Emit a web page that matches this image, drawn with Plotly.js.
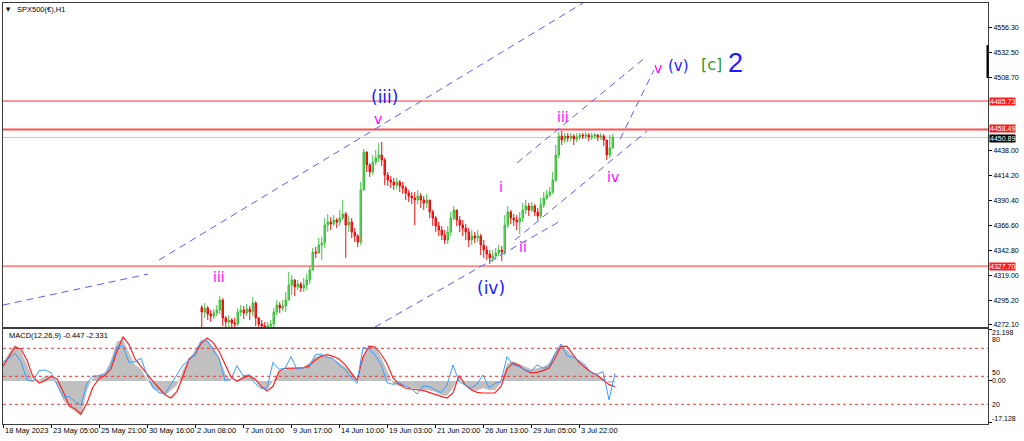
<!DOCTYPE html>
<html>
<head>
<meta charset="utf-8">
<script src="https://cdn.plot.ly/plotly-3.0.1.min.js"></script>
<style>
html,body{margin:0;padding:0;background:#ffffff;}
#chart{width:1024px;height:441px;}
</style>
</head>
<body>
<div id="chart"></div>
<script>
// ---------------- DATA ----------------
// H1 candles of SPX500, one candle per 4 hourly bars (bar index = hours shown)
const firstOpen = 4288.0;
const closes = [
 4283.7,4287.5,4281.8,4279.9,4282.8,4285.6,4295.2,4278.0,4274.2,4276.1,
 4273.2,4272.2,4283.7,4285.6,4282.8,4286.6,4283.7,4292.3,4278.0,4272.2,
 4270.3,4269.4,4270.3,4272.2,4283.7,4290.4,4287.5,4289.5,4295.2,4309.6,
 4314.4,4307.7,4310.5,4306.7,4309.6,4314.4,4323.9,4341.2,4340.2,4347.9,
 4349.8,4367.0,4369.9,4368.0,4371.8,4369.9,4373.7,4377.6,4367.0,4369.9,
 4360.3,4356.5,4350.7,4400.5,4436.9,4424.5,4417.8,4427.3,4431.2,4434.0,
 4429.3,4414.9,4410.1,4408.2,4405.3,4408.2,4404.4,4402.4,4397.7,4394.8,
 4392.9,4391.0,4394.8,4391.0,4388.1,4391.0,4379.5,4373.7,4366.1,4362.2,
 4357.4,4352.7,4360.3,4373.7,4381.4,4371.8,4367.0,4364.1,4360.3,4352.7,
 4356.5,4354.6,4356.5,4347.9,4343.1,4339.3,4335.4,4337.3,4340.2,4343.1,
 4341.2,4367.0,4379.5,4373.7,4371.8,4369.9,4373.7,4381.4,4385.2,4381.4,
 4385.2,4379.5,4375.6,4386.2,4392.9,4395.7,4398.6,4410.1,4434.0,4452.2,
 4448.4,4452.2,4450.3,4452.2,4449.4,4451.3,4453.2,4452.2,4453.2,4451.3,
 4452.2,4453.2,4451.3,4452.2,4448.4,4434.0,4440.7,4450.89
];
const highs = [
 4290.4,4292.3,4289.5,4285.6,4286.6,4290.4,4299.0,4297.0,4279.9,4280.9,
 4278.0,4278.0,4287.5,4290.4,4289.5,4291.4,4289.5,4298.1,4294.0,4278.9,
 4276.1,4274.2,4274.2,4276.1,4287.5,4295.2,4293.3,4295.2,4302.9,4322.0,
 4319.1,4315.3,4314.4,4312.4,4316.3,4320.1,4327.8,4345.0,4346.0,4354.6,
 4355.5,4373.7,4377.6,4374.7,4376.6,4373.7,4381.4,4391.0,4379.5,4375.6,
 4373.7,4364.1,4358.4,4408.2,4439.8,4437.5,4426.4,4434.0,4438.8,4445.5,
 4446.5,4431.2,4417.8,4413.9,4412.0,4412.0,4410.1,4408.2,4404.4,4400.5,
 4398.6,4398.6,4400.5,4397.7,4394.8,4396.7,4391.0,4381.4,4375.6,4369.9,
 4366.1,4362.2,4366.1,4379.5,4385.2,4381.4,4375.6,4371.8,4368.0,4364.1,
 4362.2,4360.3,4362.2,4358.4,4352.7,4346.9,4343.1,4343.1,4345.0,4347.9,
 4346.9,4376.6,4385.2,4381.4,4377.6,4376.6,4379.5,4388.1,4391.0,4388.1,
 4389.0,4387.1,4383.3,4392.9,4398.6,4400.5,4403.4,4417.8,4443.6,4456.1,
 4457.0,4455.1,4455.1,4455.1,4454.1,4455.1,4455.1,4455.1,4456.1,4455.1,
 4455.1,4455.1,4454.1,4455.1,4454.1,4448.4,4453.2,4454.1
];
const lows = [
 4266.5,4278.0,4276.1,4274.2,4277.0,4279.9,4281.8,4270.3,4266.5,4268.4,
 4264.6,4262.7,4270.3,4279.9,4277.0,4279.9,4276.1,4279.9,4270.3,4264.6,
 4262.7,4260.7,4262.7,4264.6,4266.5,4280.9,4282.8,4284.7,4283.7,4295.2,
 4300.0,4299.0,4304.8,4302.9,4302.9,4304.8,4310.5,4323.9,4335.4,4341.2,
 4333.5,4345.0,4360.3,4362.2,4366.1,4364.1,4366.1,4371.8,4335.4,4360.3,
 4354.6,4350.7,4346.0,4347.9,4400.5,4417.8,4413.0,4414.9,4424.5,4427.3,
 4423.5,4405.3,4404.4,4402.4,4400.5,4401.5,4398.6,4396.7,4391.0,4389.0,
 4387.1,4367.0,4387.1,4383.3,4381.4,4383.3,4373.7,4366.1,4360.3,4356.5,
 4352.7,4348.8,4348.8,4356.5,4371.8,4366.1,4360.3,4356.5,4352.7,4346.0,
 4347.9,4349.8,4350.7,4338.3,4335.4,4333.5,4329.7,4331.6,4333.5,4337.3,
 4332.6,4338.3,4364.1,4368.0,4366.1,4362.2,4358.4,4369.9,4377.6,4375.6,
 4379.5,4375.6,4371.8,4373.7,4383.3,4391.0,4393.8,4396.7,4408.2,4431.2,
 4443.6,4445.5,4446.5,4447.4,4443.6,4446.5,4448.4,4449.4,4449.4,4447.4,
 4448.4,4449.4,4447.4,4448.4,4442.7,4429.3,4431.2,4440.7
];

// MACD sub-window, one sample per 8 hourly bars
const macdMain = [
 7.35,11.43,14.83,12.11,6.67,0.27,0.54,1.90,2.31,-1.50,
 -7.62,-10.75,-12.38,-14.42,-3.54,1.22,2.59,2.86,8.71,16.19,
 16.87,11.43,6.67,4.90,0.54,-3.27,-4.08,-5.99,-3.81,-1.77,
 4.63,8.98,12.79,16.87,16.87,14.15,10.07,3.27,0.0,0.27,
 1.90,2.99,0.82,-2.18,-3.54,-0.14,3.95,4.63,5.03,5.31,
 5.58,7.35,9.80,10.75,10.07,8.98,7.62,5.71,3.54,0.54,
 10.07,14.69,13.88,9.80,4.35,-1.09,-2.18,-2.18,-2.72,-3.27,
 -3.54,-3.81,-4.35,-5.71,-5.99,-2.86,1.22,-1.90,-3.27,-3.95,
 -2.86,-3.81,-3.81,-0.82,7.07,8.03,6.94,5.71,4.90,5.17,
 5.71,7.35,11.43,14.83,12.79,10.07,7.62,5.71,3.81,2.59,
 1.22,-0.82,-0.447
];
const macdSignal = [
 5.99,9.80,13.88,13.06,8.44,1.63,-0.82,0.14,1.90,0.82,
 -4.22,-10.07,-11.43,-13.47,-8.98,-2.45,0.95,2.31,4.90,12.11,
 17.96,14.83,8.98,5.99,2.86,-0.14,-2.86,-5.58,-6.94,-4.22,
 1.90,8.98,10.75,15.24,17.55,15.78,12.11,6.67,1.63,-0.14,
 1.22,2.18,0.82,-2.18,-4.08,-2.18,3.95,5.17,5.31,5.31,
 5.31,6.26,8.44,10.07,10.75,10.07,8.98,6.67,3.27,0.27,
 9.80,14.15,13.88,11.02,7.07,1.22,-1.22,-2.86,-3.27,-3.54,
 -3.81,-4.63,-5.58,-6.26,-6.94,-4.90,2.18,-1.50,-3.54,-4.63,
 -4.90,-5.03,-4.90,-2.18,4.90,7.35,6.26,4.35,3.27,3.54,
 4.22,5.31,9.39,14.15,14.15,10.75,7.62,5.58,3.67,2.45,
 0.54,-1.50,-2.331
];
const oscillator = [
 65.7,69.3,74.6,65.7,46.1,44.3,56.1,56.8,53.9,41.8,
 28.2,28.2,22.9,19.3,42.5,50.4,50.4,53.2,62.2,81.8,
 82.5,64.6,65.7,69.3,51.4,38.2,32.5,31.1,41.8,51.4,
 62.2,66.8,73.9,86.8,88.2,78.2,69.3,45.4,46.8,61.4,
 50.4,51.4,42.5,37.2,37.2,65.0,57.5,58.6,71.1,57.5,
 59.3,59.3,72.9,73.9,70.4,69.3,62.2,57.5,48.9,42.5,
 81.1,78.9,72.9,62.9,43.2,41.4,43.2,39.7,37.2,31.1,
 39.7,38.9,35.4,32.5,40.7,62.2,44.3,40.7,37.2,41.8,
 51.4,37.9,42.5,44.3,71.1,62.2,60.4,56.8,55.0,62.2,
 58.6,60.4,74.6,84.6,71.8,70.4,66.8,62.2,53.9,52.2,
 55.0,24.7,53.2
];
const oscLevels = [80, 50, 20];

// axis tick labels
const priceTicks = [4556.30,4532.50,4508.70,4438.00,4414.20,4390.40,4366.60,4342.80,4319.00,4295.20,4272.10];
const dateTickBars = [0,64,128,192,256,320,384,448,512,576,640,704,768];
const dateTickLabels = ['18 May 2023','23 May 05:00','25 May 21:00','30 May 16:00','2 Jun 08:00','7 Jun 01:00',
  '9 Jun 17:00','14 Jun 10:00','19 Jun 03:00','21 Jun 20:00','26 Jun 13:00','29 Jun 05:00','3 Jul 22:00'];

// horizontal price levels
const redLevels = [4485.73, 4458.49, 4327.70];
const bidLevel = 4450.89;

// analyst trend lines [bar0, price0, bar1, price1]
const trendLines = [
  [0, 4290.4, 193.3, 4320.1],
  [208, 4333.5, 773.3, 4579.6],
  [496, 4269.4, 745.3, 4371.8],
  [682.7, 4352.7, 858.7, 4457.0],
  [685.3, 4426.4, 857.3, 4527.9],
  [822.7, 4449.4, 868.0, 4515.4]
];

// Elliott wave labels [text, bar, price, kind]
const waveLabels = [
  ['(iii)', 508, 4489.6, 'big'],
  ['v', 500, 4468.5, 'small'],
  ['iii', 288, 4317.2, 'small'],
  ['(iv)', 650.7, 4306.7, 'big'],
  ['i', 664, 4403.4, 'small'],
  ['ii', 693.3, 4345.9, 'small'],
  ['iii', 746.7, 4470.4, 'small'],
  ['iv', 813.3, 4413.0, 'small'],
  ['v', 873.3, 4517.3, 'small'],
  ['(v)', 900, 4519.2, 'mid'],
  ['[c]', 945.3, 4521.2, 'green'],
  ['2', 977.3, 4522.1, 'huge']
];

// ---------------- BUILD ----------------
const candleX = closes.map((_, i) => 265 + 4 * i);
const opens = closes.map((c, i) => i === 0 ? firstOpen : closes[i - 1]);
const macdX = macdMain.map((_, k) => 8 * k);

const FONT = 'Liberation Sans, Arial, sans-serif';
const WFONT = 'DejaVu Sans, Verdana, sans-serif';
const XMAX = 1313.3;

const traces = [
  {
    type: 'candlestick', x: candleX, open: opens, high: highs, low: lows, close: closes,
    xaxis: 'x', yaxis: 'y',
    increasing: {line: {color: '#3fbf3f', width: 1}, fillcolor: '#66d966'},
    decreasing: {line: {color: '#e41111', width: 1}, fillcolor: '#ff2a2a'},
    whiskerwidth: 0, hoverinfo: 'skip', showlegend: false
  },
  {
    type: 'scatter', mode: 'lines', x: macdX, y: macdMain, xaxis: 'x2', yaxis: 'y2',
    fill: 'tozeroy', fillcolor: '#c0c0c0', line: {width: 0, color: '#c0c0c0'},
    hoverinfo: 'skip', showlegend: false
  },
  {
    type: 'scatter', mode: 'lines', x: macdX, y: macdSignal, xaxis: 'x2', yaxis: 'y2',
    line: {width: 1.2, color: '#ff2020'}, hoverinfo: 'skip', showlegend: false
  },
  {
    type: 'scatter', mode: 'lines', x: macdX, y: oscillator, xaxis: 'x2', yaxis: 'y3',
    line: {width: 1, color: '#3b9bff'}, hoverinfo: 'skip', showlegend: false
  }
];

const shapes = [];
redLevels.forEach((v, i) => shapes.push({
  type: 'line', xref: 'paper', x0: 0, x1: 1, yref: 'y', y0: v, y1: v,
  line: {color: i === 1 ? '#ff5050' : '#ff2e2e', width: i === 1 ? 2 : 1}, layer: 'below'
}));
shapes.push({type: 'line', xref: 'paper', x0: 0, x1: 1, yref: 'y', y0: bidLevel, y1: bidLevel,
  line: {color: '#c8c8c8', width: 1}, layer: 'below'});
trendLines.forEach(t => shapes.push({
  type: 'line', xref: 'x', yref: 'y', x0: t[0], y0: t[1], x1: t[2], y1: t[3],
  line: {color: '#5a5aff', width: 1, dash: '7px,5px'}
}));
oscLevels.forEach(v => shapes.push({
  type: 'line', xref: 'paper', x0: 0, x1: 1, yref: 'y3', y0: v, y1: v,
  line: {color: '#ff3030', width: 1, dash: '3px,3px'}
}));
// shift marker at right edge
shapes.push({type: 'line', xref: 'paper', x0: 0.9995, x1: 0.9995, yref: 'y', y0: 4507.8, y1: 4539.3,
  line: {color: '#000', width: 2}});

const annotations = [];
// price level boxes
redLevels.forEach((v, i) => annotations.push({
  xref: 'paper', x: 1, xanchor: 'left', xshift: 1, yref: 'y', y: v, yanchor: 'middle',
  yshift: i === 1 ? 1 : 0,
  text: v.toFixed(2), showarrow: false, bgcolor: '#ff1a1a', borderpad: 0,
  font: {family: FONT, size: 7, color: '#ffffff'}
}));
annotations.push({
  xref: 'paper', x: 1, xanchor: 'left', xshift: 1, yref: 'y', y: bidLevel, yanchor: 'middle',
  yshift: -1,
  text: bidLevel.toFixed(2), showarrow: false, bgcolor: '#000000', borderpad: 0,
  font: {family: FONT, size: 7, color: '#ffffff'}
});
// date labels (left aligned at ticks, MT4 style)
dateTickBars.forEach((b, i) => annotations.push({
  xref: 'x2', x: b, xanchor: 'left', xshift: 0, yref: 'paper', y: -0.0154, yanchor: 'middle',
  text: dateTickLabels[i], showarrow: false, font: {family: FONT, size: 7.5, color: '#000'}
}));
// lower window scale labels
[['21.198', 0.2173], ['80', 0.2019], ['50', 0.1235], ['0.00', 0.1025], ['20', 0.0475], ['-17.128', 0.0131]]
  .forEach(p => annotations.push({
    xref: 'paper', x: 1, xanchor: 'left', xshift: 2, yref: 'paper', y: p[1], yanchor: 'middle',
    text: p[0], showarrow: false, font: {family: FONT, size: 7, color: '#000'}
  }));
// titles
annotations.push({xref: 'paper', x: 0.0051, xanchor: 'center', yref: 'paper', y: 0.9846, yanchor: 'middle',
  text: '▼', showarrow: false, font: {family: 'DejaVu Sans', size: 5.5, color: '#000'}});
annotations.push({xref: 'paper', x: 0.0122, xanchor: 'left', yref: 'paper', y: 0.9846, yanchor: 'middle',
  text: 'SPX500(€),H1', showarrow: false, font: {family: FONT, size: 7.5, color: '#000'}});
annotations.push({xref: 'paper', x: 0.0041, xanchor: 'left', yref: 'paper', y: 0.2114, yanchor: 'middle',
  text: 'MACD(12,26,9) -0.447 -2.331', showarrow: false, font: {family: FONT, size: 7.5, color: '#000'}});
// wave labels
const waveStyle = {
  big: {size: 17, color: '#1a1aff'},
  mid: {size: 15, color: '#1a1aff'},
  small: {size: 14, color: '#ff00ff'},
  green: {size: 16, color: '#2e9a2e'},
  huge: {size: 27, color: '#1a1aff'}
};
waveLabels.forEach(w => annotations.push({
  xref: 'x', x: w[1], yref: 'y', y: w[2], xanchor: 'center', yanchor: 'middle',
  text: w[0], showarrow: false,
  font: {family: w[3] === 'huge' ? FONT : WFONT, size: waveStyle[w[3]].size, color: waveStyle[w[3]].color}
}));

const axCommon = {showgrid: false, zeroline: false, showline: true, mirror: true, linecolor: '#3c3c3c', linewidth: 1, fixedrange: true};

const layout = {
  width: 1024, height: 441,
  margin: {l: 3, r: 36, t: 3, b: 17, pad: 0},
  paper_bgcolor: '#ffffff', plot_bgcolor: '#ffffff',
  showlegend: false, hovermode: false,
  font: {family: FONT, size: 7.5, color: '#000'},
  xaxis: Object.assign({}, axCommon, {domain: [0, 1], anchor: 'y', range: [0, XMAX],
    showticklabels: false, ticks: '', rangeslider: {visible: false}}),
  yaxis: Object.assign({}, axCommon, {domain: [0.2304, 1], anchor: 'x', side: 'right',
    range: [4269.4, 4579.6], tickmode: 'array', tickvals: priceTicks,
    ticktext: priceTicks.map(v => v.toFixed(2)), ticks: 'outside', ticklen: 3, tickcolor: '#000',
    tickfont: {family: FONT, size: 7, color: '#000'}}),
  xaxis2: Object.assign({}, axCommon, {domain: [0, 1], anchor: 'y2', range: [0, XMAX],
    tickmode: 'array', tickvals: dateTickBars, ticks: 'outside', ticklen: 3, tickcolor: '#000',
    showticklabels: false}),
  yaxis2: Object.assign({}, axCommon, {domain: [0, 0.2257], anchor: 'x2', side: 'right',
    range: [-17.55, 21.22], tickmode: 'array', tickvals: [21.198, 0, -17.128], ticks: 'outside',
    ticklen: 3, tickcolor: '#000', showticklabels: false}),
  yaxis3: {overlaying: 'y2', anchor: 'x2', side: 'right', range: [-1.1, 100.7], showgrid: false,
    zeroline: false, showline: false, showticklabels: false, ticks: '', fixedrange: true},
  shapes: shapes,
  annotations: annotations
};

Plotly.newPlot('chart', traces, layout, {displayModeBar: false, staticPlot: true});
</script>
</body>
</html>
